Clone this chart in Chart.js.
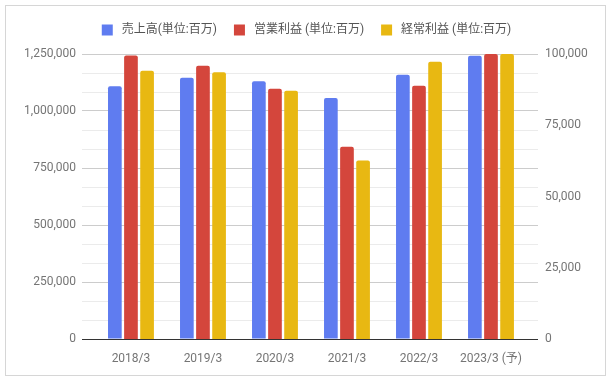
<!DOCTYPE html>
<html><head><meta charset="utf-8">
<script src="https://cdn.jsdelivr.net/npm/chart.js@4.4.0/dist/chart.umd.min.js"></script>
<style>
html,body{margin:0;padding:0;background:#fff;}
#wrap{position:relative;width:613px;height:382px;}
#frame{position:absolute;left:5px;top:5px;width:601px;height:371px;box-sizing:border-box;border:1px solid #d6d6d6;pointer-events:none;}
</style></head><body>
<div id="wrap"><canvas id="c" width="613" height="382"></canvas><div id="frame"></div></div>
<script>
const categories = ['2018/3', '2019/3', '2020/3', '2021/3', '2022/3', '2023/3 (予)'];
const seriesNames = ['売上高(単位:百万)', '営業利益 (単位:百万)', '経常利益 (単位:百万)'];
const sales = [1109000, 1146000, 1131000, 1057000, 1159000, 1242000];
const operatingProfit = [99500, 95900, 87800, 67500, 88900, 100000];
const ordinaryProfit = [94100, 93600, 87100, 62600, 97300, 100000];
const leftTicks = [0, 250000, 500000, 750000, 1000000, 1250000];
const rightTicks = [0, 25000, 50000, 75000, 100000];
const colors = ['#5f7cf0', '#d4463c', '#e8b812'];

const FONT = "Roboto, 'Noto Sans CJK JP', sans-serif";
const fmt = v => Number(v).toLocaleString('en-US');

new Chart(document.getElementById('c'), {
  type: 'bar',
  data: {
    labels: categories,
    datasets: [
      {label: seriesNames[0], data: sales, backgroundColor: colors[0], yAxisID: 'y', borderWidth: 0, borderRadius: 2},
      {label: seriesNames[1], data: operatingProfit, backgroundColor: colors[1], yAxisID: 'y1', borderWidth: 0, borderRadius: 2},
      {label: seriesNames[2], data: ordinaryProfit, backgroundColor: colors[2], yAxisID: 'y1', borderWidth: 0, borderRadius: 2}
    ]
  },
  options: {
    responsive: false,
    animation: false,
    devicePixelRatio: 1,
    categoryPercentage: 0.671,
    barPercentage: 0.85,
    layout: {padding: {top: 7, left: 0, right: 0, bottom: 0}},
    plugins: {
      legend: {
        position: 'top',
        labels: {
          boxWidth: 11, boxHeight: 11, padding: 17, color: '#555',
          font: {family: FONT, size: 12},
          generateLabels(chart) {
            const items = Chart.defaults.plugins.legend.labels.generateLabels(chart);
            items.forEach(i => { i.text = ' ' + i.text; i.lineWidth = 0; });
            return items;
          }
        }
      },
      subtitle: {display: true, text: '', position: 'top', weight: 500, font: {size: 6, lineHeight: 1}, padding: {top: 0, bottom: 2}},
      tooltip: {enabled: false}
    },
    scales: {
      x: {
        grid: {display: false},
        border: {display: false},
        ticks: {color: '#757575', font: {family: FONT, size: 12}, padding: 5, maxRotation: 0, autoSkip: false},
        afterBuildTicks(scale) { scale._startValue = -0.68; scale._valueRange = 6.333; },
        afterFit(scale) { scale.height = 43; }
      },
      y: {
        position: 'left',
        min: 0, max: 1250000,
        border: {display: false},
        grid: {
          drawTicks: false,
          color(ctx) {
            const v = ctx.tick ? ctx.tick.value : null;
            if (v === 0) return '#333333';
            return leftTicks.includes(v) ? '#cccccc' : '#ebebeb';
          }
        },
        ticks: {
          color: '#757575', font: {family: FONT, size: 12}, padding: 6, autoSkip: false,
          callback(v) { return leftTicks.includes(v) ? fmt(v) : ''; }
        },
        afterBuildTicks(scale) {
          const t = [];
          for (let i = 0; i < leftTicks.length; i++) {
            t.push({value: leftTicks[i]});
            if (i < leftTicks.length - 1) {
              const a = leftTicks[i], b = leftTicks[i + 1];
              t.push({value: a + (b - a) / 3});
              t.push({value: a + 2 * (b - a) / 3});
            }
          }
          scale.ticks = t;
        },
        afterFit(scale) { scale.width = 82; }
      },
      y1: {
        position: 'right',
        min: 0, max: 100000,
        border: {display: false},
        grid: {display: false, drawOnChartArea: false, drawTicks: false},
        ticks: {color: '#757575', font: {family: FONT, size: 12}, padding: 7, autoSkip: false, callback: v => fmt(v)},
        afterBuildTicks(scale) { scale.ticks = rightTicks.map(v => ({value: v})); },
        afterFit(scale) { scale.width = 75; }
      }
    }
  }
});
</script>
</body></html>
